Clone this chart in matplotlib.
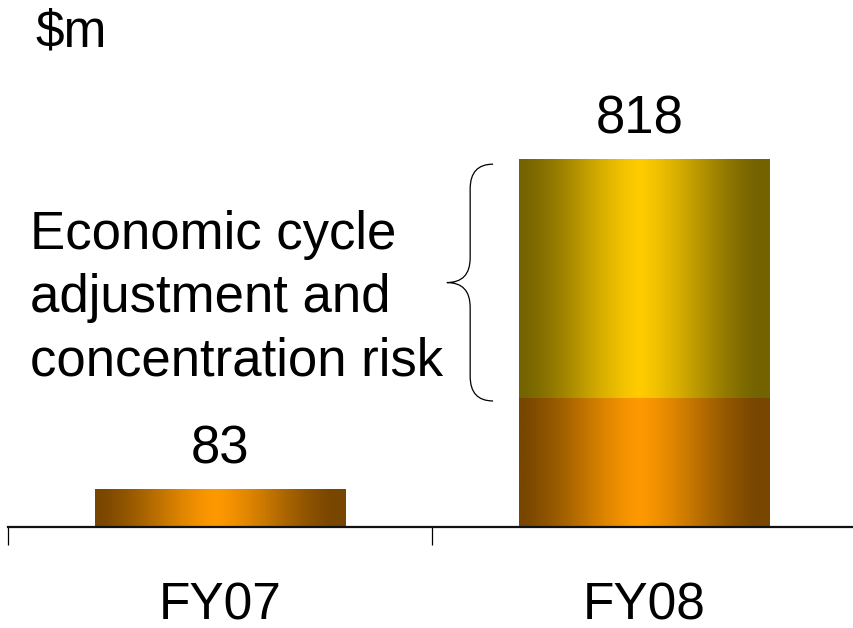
import numpy as np
import matplotlib
matplotlib.use("Agg")
import matplotlib.pyplot as plt
from matplotlib.path import Path
from matplotlib.patches import PathPatch
from matplotlib.colors import to_rgb

plt.rcParams['font.family'] = ['Liberation Sans', 'DejaVu Sans']

# provisions, $m
years = ["FY07", "FY08"]
base = [83, 287]          # orange part
cycle_adj = [0, 531]      # economic cycle adjustment and concentration risk (gold)
totals = [83, 818]

orange = ("#ff9900", "#784600")
gold = ("#ffcc00", "#746300")


def shade(ax, x0, x1, y0, y1, colors):
    # horizontal "cylinder" shading: dark edges, bright middle
    mid, edge = np.array(to_rgb(colors[0])), np.array(to_rgb(colors[1]))
    t = np.linspace(0, 1, 256)
    d = np.clip(np.abs(t - 0.48) / 0.47, 0, 1)
    d = 0.5 * d + 0.5 * (3 * d ** 2 - 2 * d ** 3)
    img = mid[None, :] * (1 - d[:, None]) + edge[None, :] * d[:, None]
    ax.imshow(img[None, :, :], extent=(x0, x1, y0, y1), aspect='auto',
              interpolation='bilinear', zorder=2)


fig = plt.figure(figsize=(8.54, 6.28), dpi=100)
ax = fig.add_axes([8 / 854, 1 - 527 / 628, 848 / 854, 527 / 628])

w = 0.59
for i in range(len(years)):
    shade(ax, i - w / 2, i + w / 2, 0, base[i], orange)
    if cycle_adj[i] > 0:
        shade(ax, i - w / 2, i + w / 2, base[i], base[i] + cycle_adj[i], gold)
    ax.annotate(str(totals[i]), (i, totals[i]), xytext=(-3 * i, 19),
                textcoords='offset points', ha='center', va='baseline', fontsize=38)

ax.set_xlim(-0.5, 1.5)
ax.set_ylim(0, 1175)

# curly brace next to the FY08 adjustment
lo, hi = base[1] - 6, totals[1] - 9
mid = (lo + hi) / 2
xt, xv, xp = 0.644, 0.590, 0.535
r = 55
verts = [(xt, hi), (xv, hi), (xv, hi - r),
         (xv, mid + r),
         (xv, mid), (xp, mid),
         (xv, mid), (xv, mid - r),
         (xv, lo + r),
         (xv, lo), (xt, lo)]
codes = [Path.MOVETO, Path.CURVE3, Path.CURVE3,
         Path.LINETO,
         Path.CURVE3, Path.CURVE3,
         Path.CURVE3, Path.CURVE3,
         Path.LINETO,
         Path.CURVE3, Path.CURVE3]
ax.add_patch(PathPatch(Path(verts, codes), fill=False, lw=0.9, color='black', zorder=3))

for s in ['left', 'top', 'right']:
    ax.spines[s].set_visible(False)
ax.spines['bottom'].set_linewidth(1.6)
ax.spines['bottom'].set_color('#111111')
ax.set_yticks([])
ax.set_xticks([0, 1])
ax.set_xticklabels(years, fontsize=37)
ax.set_xticks([-0.5, 0.5, 1.5], minor=True)
ax.tick_params(axis='x', which='major', length=0, pad=39)
ax.tick_params(axis='x', which='minor', length=13, width=0.9, direction='out', color='black')
ax.patch.set_alpha(0)

fig.text(35 / 854, 1 - 46 / 628, "$m", fontsize=37, va='baseline')
lines = ["Economic cycle", "adjustment and", "concentration risk"]
for k, line in enumerate(lines):
    fig.text(30 / 854, 1 - (249 + 63 * k) / 628, line, fontsize=38, va='baseline')

fig.savefig("out.png", dpi=100)
